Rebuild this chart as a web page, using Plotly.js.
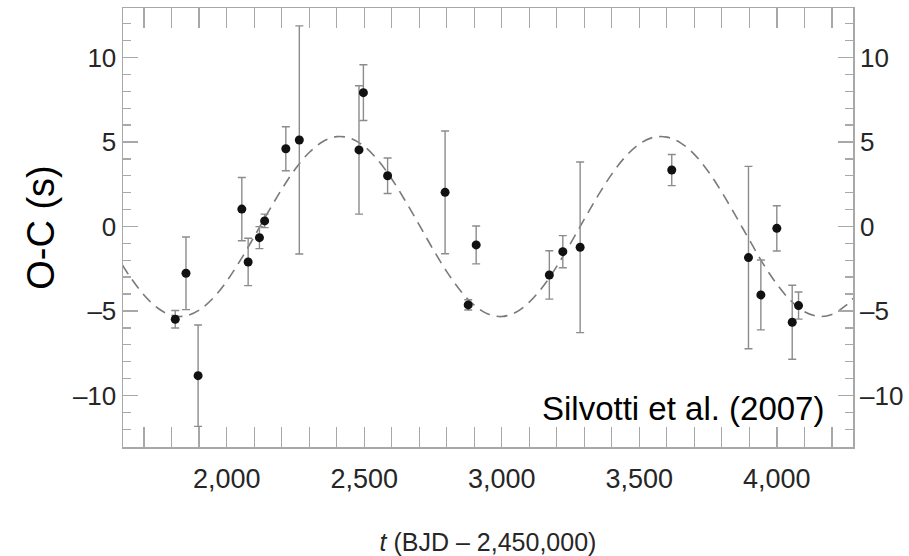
<!DOCTYPE html>
<html>
<head>
<meta charset="utf-8">
<script src="https://cdn.plot.ly/plotly-3.0.1.min.js"></script>
<style>
  html, body { margin: 0; padding: 0; background: #ffffff; }
  #chart { width: 909px; height: 556px; }
</style>
</head>
<body>
<div id="chart"></div>
<script>
// Pulse-timing residuals of V391 Peg: observed minus calculated arrival times
const epochDays = [1813, 1852, 1896, 2055, 2078, 2119, 2138, 2215, 2264, 2481, 2497, 2585,
                   2794, 2878, 2907, 3173, 3222, 3285, 3618, 3897, 3942, 4000, 4056, 4079];
const ocSeconds = [-5.49, -2.77, -8.83, 1.03, -2.10, -0.66, 0.33, 4.60, 5.12, 4.53, 7.92, 3.00,
                   2.02, -4.64, -1.09, -2.87, -1.49, -1.23, 3.34, -1.84, -4.05, -0.11, -5.67, -4.68];
const ocErrors  = [0.52, 2.15, 3.00, 1.87, 1.40, 0.65, 0.40, 1.30, 6.75, 3.80, 1.65, 1.05,
                   3.63, 0.30, 1.12, 1.43, 0.95, 5.05, 0.92, 5.40, 2.07, 1.34, 2.19, 0.80];

// Sinusoidal orbital fit, sampled along the time axis
const fitDays = [1620, 1650, 1700, 1750, 1800, 1850, 1900, 1950, 2000, 2050, 2100, 2150, 2200,
                 2250, 2300, 2350, 2400, 2450, 2500, 2550, 2600, 2650, 2700, 2750, 2800, 2850,
                 2900, 2950, 3000, 3050, 3100, 3150, 3200, 3250, 3300, 3350, 3400, 3450, 3500,
                 3550, 3600, 3650, 3700, 3750, 3800, 3850, 3900, 3950, 4000, 4050, 4100, 4150,
                 4200, 4250, 4278];
const fitOC   = [-2.26, -3.01, -4.07, -4.84, -5.26, -5.30, -4.95, -4.25, -3.24, -1.99, -0.60, 0.83, 2.20,
                 3.42, 4.38, 5.03, 5.32, 5.22, 4.74, 3.92, 2.81, 1.50, 0.09, -1.34, -2.67, -3.80,
                 -4.66, -5.18, -5.33, -5.09, -4.48, -3.55, -2.36, -1.00, 0.43, 1.83, 3.10, 4.14, 4.88,
                 5.27, 5.29, 4.95, 4.27, 3.27, 2.03, 0.64, -0.79, -2.20, -3.41, -4.38, -5.04, -5.32,
                 -5.21, -4.69, -4.25];

const xTickVals = [2000, 2500, 3000, 3500, 4000];
const yTickVals = [-10, -5, 0, 5, 10];
const yTickText = ['–10', '–5', '0', '5', '10'];

const sans = 'Arial, "Liberation Sans", Helvetica, sans-serif';
const axisGrey = '#a8a8a8';
const labelColor = '#262626';
const xRange = [1623, 4277];
const yRange = [-13.05, 12.93];

const traces = [
  {
    x: fitDays, y: fitOC,
    type: 'scatter', mode: 'lines',
    line: { color: '#7a7a7a', width: 1.6, dash: '11px,7px', shape: 'spline', smoothing: 1 },
    hoverinfo: 'skip', showlegend: false
  },
  {
    x: epochDays, y: ocSeconds,
    type: 'scatter', mode: 'markers',
    marker: { color: '#111111', size: 9 },
    error_y: { type: 'data', array: ocErrors, visible: true, color: '#8c8c8c', thickness: 1.4, width: 4 },
    showlegend: false
  },
  {
    // carries the right-hand tick labels
    x: [xRange[0]], y: [0], yaxis: 'y2',
    type: 'scatter', mode: 'markers', marker: { opacity: 0 },
    hoverinfo: 'skip', showlegend: false
  }
];

const layout = {
  width: 909, height: 556,
  margin: { l: 123, r: 56, t: 8, b: 109 },
  paper_bgcolor: '#ffffff', plot_bgcolor: '#ffffff',
  showlegend: false,
  xaxis: {
    range: xRange,
    tickvals: xTickVals, tickformat: ',d',
    ticks: 'inside', ticklen: 20, tickwidth: 1.4, tickcolor: axisGrey,
    minor: { dtick: 100, tick0: 0, ticks: 'inside', ticklen: 10, tickwidth: 1.4, tickcolor: axisGrey, showgrid: false },
    showline: true, linecolor: axisGrey, linewidth: 1.5, mirror: 'allticks',
    showgrid: false, zeroline: false,
    tickfont: { family: sans, size: 27, color: labelColor },
    ticklabelstandoff: 7,
    title: { text: '<i>t</i> (BJD – 2,450,000)', font: { family: sans, size: 25, color: labelColor }, standoff: 41 },
    automargin: false
  },
  yaxis: {
    range: yRange,
    tickvals: yTickVals, ticktext: yTickText,
    ticks: 'inside', ticklen: 15, tickwidth: 1.4, tickcolor: axisGrey,
    minor: { dtick: 1, tick0: 0, ticks: 'inside', ticklen: 8, tickwidth: 1.4, tickcolor: axisGrey, showgrid: false },
    showline: true, linecolor: axisGrey, linewidth: 1.5, mirror: 'allticks',
    showgrid: false, zeroline: false,
    tickfont: { family: sans, size: 26, color: labelColor },
    ticklabelstandoff: 0,
    title: { text: 'O-C (s)', font: { family: sans, size: 38, color: '#000000' }, standoff: 6 },
    automargin: false
  },
  yaxis2: {
    range: yRange, overlaying: 'y', side: 'right',
    tickvals: yTickVals, ticktext: yTickText, ticks: '',
    showline: false, showgrid: false, zeroline: false,
    tickfont: { family: sans, size: 26, color: labelColor },
    ticklabelstandoff: 6,
    automargin: false
  },
  annotations: [{
    text: 'Silvotti et al. (2007)',
    xref: 'x', yref: 'y', x: 4178, y: -10.8,
    xanchor: 'right', yanchor: 'middle',
    showarrow: false,
    font: { family: sans, size: 33, color: '#000000' }
  }]
};

Plotly.newPlot('chart', traces, layout, { staticPlot: true, displayModeBar: false });
</script>
</body>
</html>
